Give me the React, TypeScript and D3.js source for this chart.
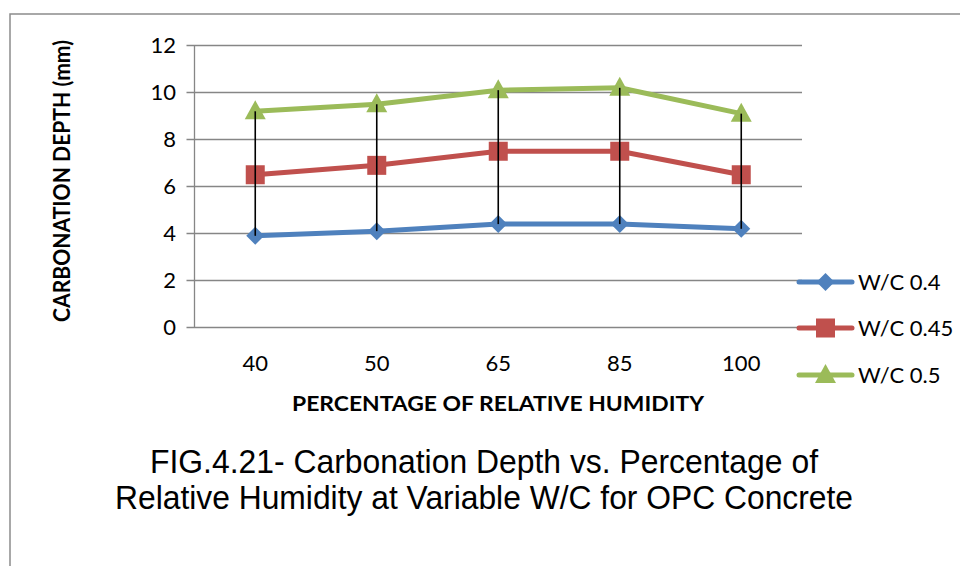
import React from "react";
import * as d3 from "d3";

const categories = ["40", "50", "65", "85", "100"];
const seriesNames = ["W/C 0.4", "W/C 0.45", "W/C 0.5"];
const wc04 = [3.9, 4.1, 4.4, 4.4, 4.2];
const wc045 = [6.5, 6.9, 7.5, 7.5, 6.5];
const wc05 = [9.2, 9.5, 10.1, 10.2, 9.1];
const yTicks = [0, 2, 4, 6, 8, 10, 12];
const colors = ["#4F81BD", "#C0504D", "#9BBB59"];
const markers = ["diamond", "square", "triangle"];

const W = 960;
const H = 566;
const left = 194.5;
const right = 802;
const top = 45.5;
const bottom = 327.5;

const FONT = "Lato, 'Open Sans', 'DejaVu Sans', sans-serif";
const CAPTION_FONT = "'Liberation Sans Narrow', 'Arial Narrow', 'Liberation Sans', Arial, sans-serif";

function Marker({ kind, x, y, color }: { kind: string; x: number; y: number; color: string }) {
  if (kind === "diamond") {
    const r = 9;
    return <path d={`M${x},${y - r}L${x + r},${y}L${x},${y + r}L${x - r},${y}Z`} fill={color} />;
  }
  if (kind === "square") {
    const s = 9.5;
    return <rect x={x - s} y={y - s} width={2 * s} height={2 * s} fill={color} />;
  }
  const w = 10.5;
  const h = 19;
  return <path d={`M${x},${y - h * 0.58}L${x + w},${y + h * 0.42}L${x - w},${y + h * 0.42}Z`} fill={color} />;
}

export default function App() {
  const series = [wc04, wc045, wc05];
  const x = d3.scaleBand<string>().domain(categories).range([left, right]);
  const y = d3.scaleLinear().domain([0, 12]).range([bottom, top]);
  const cx = (c: string) => (x(c) as number) + x.bandwidth() / 2;
  const line = d3
    .line<number>()
    .x((_, i) => cx(categories[i]))
    .y((d) => y(d));

  const legendY = [282, 328, 375];

  return (
    <svg
      width={W}
      height={H}
      style={{ position: "fixed", left: 0, top: 0, background: "#fff" }}
      fontFamily={FONT}
    >
      <rect x={0} y={0} width={W} height={H} fill="#fff" />
      <rect x={10} y={14} width={1000} height={600} fill="none" stroke="#8c8c8c" strokeWidth={1.5} />

      {/* gridlines */}
      {yTicks.map((t) => (
        <g key={t}>
          <line x1={left - 8} x2={right} y1={y(t)} y2={y(t)} stroke="#868686" strokeWidth={1.3} />
          <text x={176} y={y(t)} dy="0.36em" textAnchor="end" fontSize={22} fill="#000">
            {t}
          </text>
        </g>
      ))}
      <line x1={left} x2={left} y1={top} y2={bottom} stroke="#868686" strokeWidth={1.3} />

      {/* x tick labels */}
      {categories.map((c) => (
        <text key={c} x={cx(c)} y={371} textAnchor="middle" fontSize={22} fill="#000">
          {c}
        </text>
      ))}

      {/* series */}
      {series.map((s, si) => (
        <g key={si}>
          <path d={line(s) as string} fill="none" stroke={colors[si]} strokeWidth={5} strokeLinejoin="round" />
          {s.map((v, i) => (
            <Marker key={i} kind={markers[si]} x={cx(categories[i])} y={y(v)} color={colors[si]} />
          ))}
        </g>
      ))}
      {/* high-low lines drawn over markers */}
      {categories.map((c, i) => {
        const vals = series.map((s) => s[i]);
        return (
          <line
            key={"h" + c}
            x1={cx(c)}
            x2={cx(c)}
            y1={y(d3.max(vals) as number)}
            y2={y(d3.min(vals) as number)}
            stroke="#000"
            strokeWidth={1.6}
          />
        );
      })}

      {/* axis titles */}
      <text
        x={498}
        y={411}
        textAnchor="middle"
        fontSize={21}
        fontWeight="bold"
        textLength={412}
        lengthAdjust="spacingAndGlyphs"
        fill="#000"
      >
        PERCENTAGE OF RELATIVE HUMIDITY
      </text>
      <text
        transform="translate(70,181) rotate(-90)"
        textAnchor="middle"
        fontSize={23}
        fontWeight="bold"
        textLength={282}
        lengthAdjust="spacingAndGlyphs"
        fill="#000"
      >
        CARBONATION DEPTH (mm)
      </text>

      {/* legend */}
      {seriesNames.map((n, i) => (
        <g key={n}>
          <line
            x1={799}
            x2={852}
            y1={legendY[i]}
            y2={legendY[i]}
            stroke={colors[i]}
            strokeWidth={5}
            strokeLinecap="round"
          />
          <Marker kind={markers[i]} x={825.5} y={legendY[i]} color={colors[i]} />
          <text x={858} y={legendY[i]} dy="0.36em" fontSize={22} fill="#000">
            {n}
          </text>
        </g>
      ))}

      {/* caption */}
      <text
        x={484}
        y={473}
        textAnchor="middle"
        fontFamily={CAPTION_FONT}
        fontSize={33}
        textLength={668}
        lengthAdjust="spacingAndGlyphs"
        fill="#000"
      >
        FIG.4.21- Carbonation Depth vs. Percentage of
      </text>
      <text
        x={484}
        y={509}
        textAnchor="middle"
        fontFamily={CAPTION_FONT}
        fontSize={33}
        textLength={738}
        lengthAdjust="spacingAndGlyphs"
        fill="#000"
      >
        Relative Humidity at Variable W/C for OPC Concrete
      </text>
    </svg>
  );
}
